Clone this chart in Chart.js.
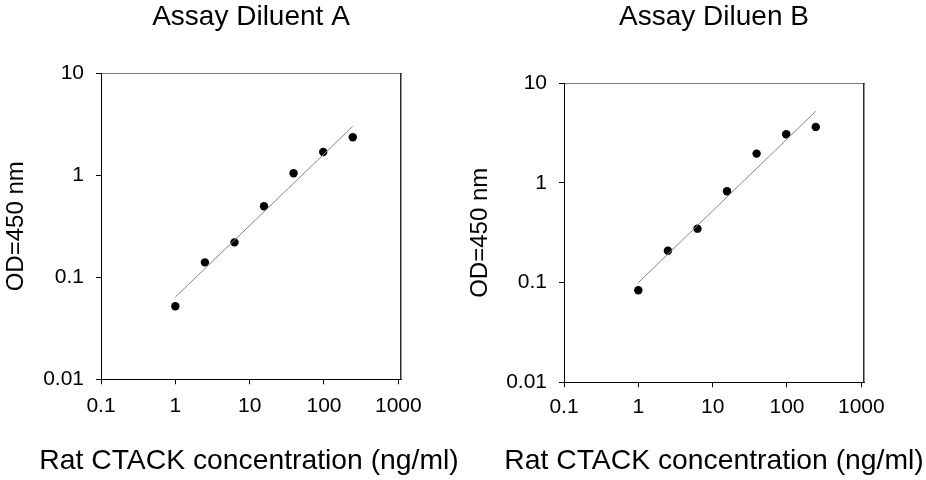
<!DOCTYPE html>
<html>
<head>
<meta charset="utf-8">
<script src="https://cdn.jsdelivr.net/npm/chart.js@4.4.1/dist/chart.umd.min.js"></script>
<style>
  html, body { margin: 0; padding: 0; background: #ffffff; }
  #wrap { position: relative; width: 926px; height: 480px; overflow: hidden; }
  .cell { position: absolute; top: 0; width: 498px; height: 480px; }
  #cellA { left: 0; }
  #cellB { left: 465px; }
</style>
</head>
<body>
<div id="wrap">
  <div class="cell" id="cellA"><canvas id="chartA" width="498" height="480"></canvas></div>
  <div class="cell" id="cellB"><canvas id="chartB" width="498" height="480"></canvas></div>
</div>
<script>
// ---- data ----
const concentrations = [1, 2.5, 6.25, 15.6, 39, 97.7, 244];   // ng/ml
const odDiluentA     = [0.052, 0.140, 0.220, 0.497, 1.046, 1.69, 2.36];
const odDiluentB     = [0.084, 0.209, 0.348, 0.825, 1.97, 3.08, 3.65];
const fitX           = [1, 244];
const fitDiluentA    = [0.064, 3.02];
const fitDiluentB    = [0.100, 5.24];
const xTickValues    = [0.1, 1, 10, 100, 1000];
const xTickLabels    = ['0.1', '1', '10', '100', '1000'];
const yTickValues    = [0.01, 0.1, 1, 10];
const yTickLabels    = ['0.01', '0.1', '1', '10'];
const titleA = 'Assay Diluent A';
const titleB = 'Assay Diluen B';
const xTitle = 'Rat CTACK concentration (ng/ml)';
const yTitle = 'OD=450 nm';

const FONT = "'Liberation Sans', Arial, Helvetica, sans-serif";
const CANVAS_H = 480;
const XTITLE_SIZE = 28.3;
const XTITLE_BOX_TOP = 444;   // top of the bottom title box

function pts(xs, ys) { return xs.map((x, i) => ({ x: x, y: ys[i] })); }

function makeChart(canvasId, title, od, fit, geo) {
  const ctx = document.getElementById(canvasId).getContext('2d');
  return new Chart(ctx, {
    type: 'scatter',
    data: {
      datasets: [
        {
          type: 'line',
          label: 'fit',
          data: pts(fitX, fit),
          borderColor: '#858585',
          borderWidth: 1,
          pointRadius: 0,
          fill: false,
          tension: 0
        },
        {
          label: 'OD',
          data: pts(concentrations, od),
          backgroundColor: '#000000',
          borderColor: '#000000',
          pointRadius: 4.2,
          pointHoverRadius: 4.2,
          borderWidth: 0
        }
      ]
    },
    options: {
      responsive: false,
      animation: false,
      events: [],
      layout: { padding: 0 },
      plugins: {
        legend: { display: false },
        tooltip: { enabled: false },
        title: {
          display: true,
          text: title,
          position: 'top',
          fullSize: false,
          color: '#000000',
          font: { family: FONT, size: 28, weight: 'normal', lineHeight: 1.2 },
          padding: { top: 0, bottom: geo.plotTop - 33.6 }
        },
        subtitle: {
          display: true,
          text: xTitle,
          position: 'bottom',
          fullSize: true,
          color: '#000000',
          font: { family: FONT, size: XTITLE_SIZE, weight: 'normal', lineHeight: 1.2 },
          padding: { top: 0, bottom: CANVAS_H - XTITLE_BOX_TOP - XTITLE_SIZE * 1.2 }
        }
      },
      scales: {
        x: {
          type: 'logarithmic',
          position: 'bottom',
          min: 0.1,
          max: 1087,
          afterBuildTicks: (s) => { s.ticks = xTickValues.map(v => ({ value: v })); },
          afterFit: (s) => { s.height = XTITLE_BOX_TOP - geo.plotBottom; },
          ticks: {
            autoSkip: false,
            maxRotation: 0,
            color: '#000000',
            padding: geo.xTickPad,
            font: { family: FONT, size: 21 },
            callback: (v, i) => xTickLabels[i]
          },
          grid: { display: true, drawOnChartArea: false, drawTicks: true, tickLength: 5, tickColor: '#000000', tickWidth: 1 },
          border: { display: true, color: '#000000', width: 1 },
          title: { display: false }
        },
        x2: {
          type: 'logarithmic',
          position: 'top',
          min: 0.1,
          max: 1087,
          afterFit: (s) => { s.height = 0; },
          ticks: { display: false },
          grid: { display: false },
          border: { display: true, color: '#7a7a7a', width: 1 }
        },
        y: {
          type: 'logarithmic',
          position: 'left',
          min: 0.01,
          max: 10,
          afterBuildTicks: (s) => { s.ticks = yTickValues.map(v => ({ value: v })); },
          afterFit: (s) => { s.width = geo.yWidth; },
          ticks: {
            autoSkip: false,
            color: '#000000',
            padding: 12,
            font: { family: FONT, size: 21 },
            callback: (v, i) => yTickLabels[i]
          },
          grid: { display: true, drawOnChartArea: false, drawTicks: true, tickLength: 5, tickColor: '#000000', tickWidth: 1 },
          border: { display: true, color: '#000000', width: 1 },
          title: {
            display: true,
            text: yTitle,
            color: '#000000',
            font: { family: FONT, size: 24, lineHeight: 1.2 },
            padding: { top: geo.yTitlePad, bottom: 0 }
          }
        },
        y2: {
          type: 'logarithmic',
          position: 'right',
          min: 0.01,
          max: 10,
          afterFit: (s) => { s.width = geo.y2Width; },
          ticks: { display: false },
          grid: { display: false },
          border: { display: true, color: '#2a2a2a', width: 1.5 }
        }
      }
    }
  });
}

makeChart('chartA', titleA, odDiluentA, fitDiluentA,
  { plotTop: 73.3, plotBottom: 379.3, xTickPad: 9.4, yWidth: 101, y2Width: 97, yTitlePad: 2.2 });
makeChart('chartB', titleB, odDiluentB, fitDiluentB,
  { plotTop: 83.3, plotBottom: 382.3, xTickPad: 7.6, yWidth: 99, y2Width: 99, yTitlePad: 0.6 });
</script>
</body>
</html>
